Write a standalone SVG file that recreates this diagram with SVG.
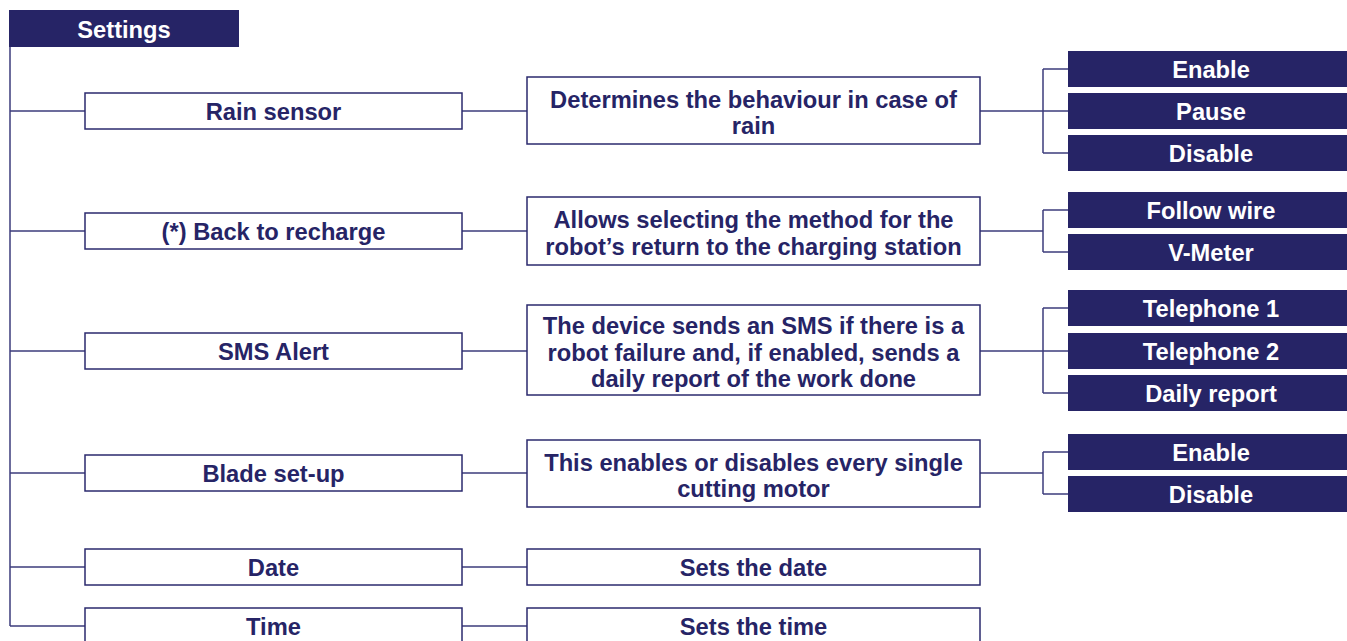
<svg xmlns="http://www.w3.org/2000/svg" width="1347" height="641" viewBox="0 0 1347 641">
<style>
.n rect{fill:#fff;stroke:#2b2a6e;stroke-width:1.5}
.d rect{fill:#262466;stroke:none}
text{font-family:"Liberation Sans",Arial,sans-serif;font-weight:bold;font-size:23.7px;text-anchor:middle;dominant-baseline:central;transform:translateY(1px)}
.n text{fill:#262466}
.d text{fill:#fff}
#connectors path{fill:none;stroke:#3d3c7c;stroke-width:1.5}
</style>
<rect width="1347" height="641" fill="#fff"/>
<g id="connectors">
<path d="M10,47 V626 M10,111 H85 M10,231 H85 M10,351 H85 M10,473 H85 M10,567 H85 M10,626 H85"/>
<path d="M462,111 H527 M462,231 H527 M462,351 H527 M462,473 H527 M462,567 H527 M462,626 H527"/>
<path d="M980,111 H1068 M1043,69 V153 M1043,69 H1068 M1043,153 H1068"/>
<path d="M980,231 H1043 M1043,210 V252 M1043,210 H1068 M1043,252 H1068"/>
<path d="M980,351 H1068 M1043,308 V393 M1043,308 H1068 M1043,393 H1068"/>
<path d="M980,473 H1043 M1043,452 V494 M1043,452 H1068 M1043,494 H1068"/>
</g>
<g id="settings" class="d"><rect x="9" y="10" width="230" height="37"/><text x="124" y="29">Settings</text></g>

<g id="rain" class="n"><rect x="85" y="93" width="377" height="36"/><text x="273.5" y="111">Rain sensor</text></g>
<g id="rain-desc" class="n"><rect x="527" y="77" width="453" height="67"/><text x="753.5" y="99">Determines the behaviour in case of</text><text x="753.5" y="125">rain</text></g>
<g id="rain-enable" class="d"><rect x="1068" y="51" width="279" height="36"/><text x="1211" y="69">Enable</text></g>
<g id="rain-pause" class="d"><rect x="1068" y="93" width="279" height="36"/><text x="1211" y="111">Pause</text></g>
<g id="rain-disable" class="d"><rect x="1068" y="135" width="279" height="36"/><text x="1211" y="153">Disable</text></g>

<g id="recharge" class="n"><rect x="85" y="213" width="377" height="36"/><text x="273.5" y="231">(*) Back to recharge</text></g>
<g id="recharge-desc" class="n"><rect x="527" y="197" width="453" height="68"/><text x="753.5" y="219">Allows selecting the method for the</text><text x="753.5" y="246">robot’s return to the charging station</text></g>
<g id="follow-wire" class="d"><rect x="1068" y="192" width="279" height="36"/><text x="1211" y="210">Follow wire</text></g>
<g id="vmeter" class="d"><rect x="1068" y="234" width="279" height="36"/><text x="1211" y="252">V-Meter</text></g>

<g id="sms" class="n"><rect x="85" y="333" width="377" height="36"/><text x="273.5" y="351">SMS Alert</text></g>
<g id="sms-desc" class="n"><rect x="527" y="305" width="453" height="90"/><text x="753.5" y="325">The device sends an SMS if there is a</text><text x="753.5" y="352">robot failure and, if enabled, sends a</text><text x="753.5" y="378">daily report of the work done</text></g>
<g id="tel1" class="d"><rect x="1068" y="290" width="279" height="36"/><text x="1211" y="308">Telephone 1</text></g>
<g id="tel2" class="d"><rect x="1068" y="333" width="279" height="36"/><text x="1211" y="351">Telephone 2</text></g>
<g id="daily" class="d"><rect x="1068" y="375" width="279" height="36"/><text x="1211" y="393">Daily report</text></g>

<g id="blade" class="n"><rect x="85" y="455" width="377" height="36"/><text x="273.5" y="473">Blade set-up</text></g>
<g id="blade-desc" class="n"><rect x="527" y="440" width="453" height="67"/><text x="753.5" y="462">This enables or disables every single</text><text x="753.5" y="488">cutting motor</text></g>
<g id="blade-enable" class="d"><rect x="1068" y="434" width="279" height="36"/><text x="1211" y="452">Enable</text></g>
<g id="blade-disable" class="d"><rect x="1068" y="476" width="279" height="36"/><text x="1211" y="494">Disable</text></g>

<g id="date" class="n"><rect x="85" y="549" width="377" height="36"/><text x="273.5" y="567">Date</text></g>
<g id="date-desc" class="n"><rect x="527" y="549" width="453" height="36"/><text x="753.5" y="567">Sets the date</text></g>

<g id="time" class="n"><rect x="85" y="608" width="377" height="36"/><text x="273.5" y="626">Time</text></g>
<g id="time-desc" class="n"><rect x="527" y="608" width="453" height="36"/><text x="753.5" y="626">Sets the time</text></g>
</svg>
